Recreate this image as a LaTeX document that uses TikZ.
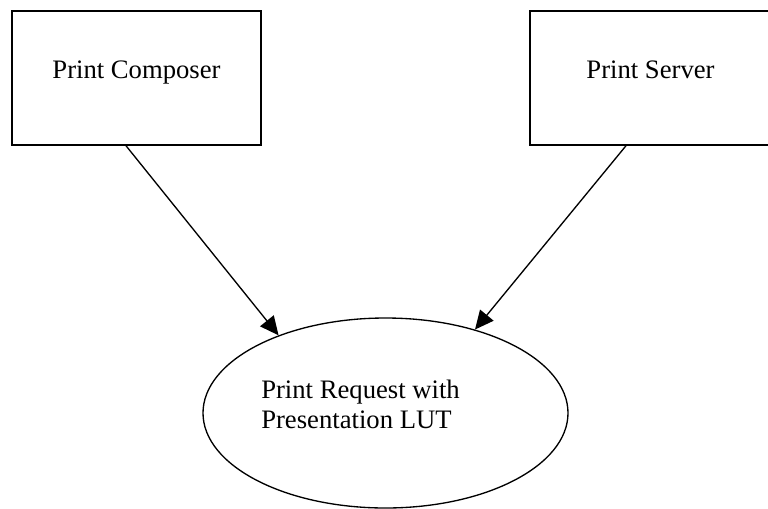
\documentclass[tikz,border=0pt]{standalone}
\usepackage{fontspec}
\setmainfont{Liberation Serif}
\usetikzlibrary{arrows.meta,shapes.geometric,calc}

\begin{document}
\begin{tikzpicture}[x=0.75pt,y=-0.75pt,>={Triangle[length=14pt,width=13pt]},
  font=\fontsize{20}{22.5}\selectfont,
  blocco/.style={draw,line width=1.1pt,minimum width=#1,minimum height=100.5pt,
    text height=10pt,text depth=10pt,inner sep=0pt},
  nuvola/.style={draw,ellipse,line width=1pt,minimum width=273.75pt,minimum height=142.5pt},
  freccia/.style={->,line width=1pt}]
  \useasboundingbox (0,0) rectangle (768,508);
  % blocchi sorgente
  \node[blocco=186.75pt] (comp) at (136.5,78) {Print Composer};
  \node[blocco=180.75pt] (serv) at (650.5,78) {Print Server};
  % richiesta di stampa
  \node[nuvola] (req) at (385.5,413) {};
  \node[anchor=base west,align=left,inner sep=0pt] (reqtxt) at (261,428) {Print Request with\\Presentation LUT};
  % frecce
  \draw[freccia] ($(comp.south)+(-10.5,0)$) -- (req.144);
  \draw[freccia] ($(serv.south)+(-24.5,0)$) -- (req.43);
\end{tikzpicture}
\end{document}
